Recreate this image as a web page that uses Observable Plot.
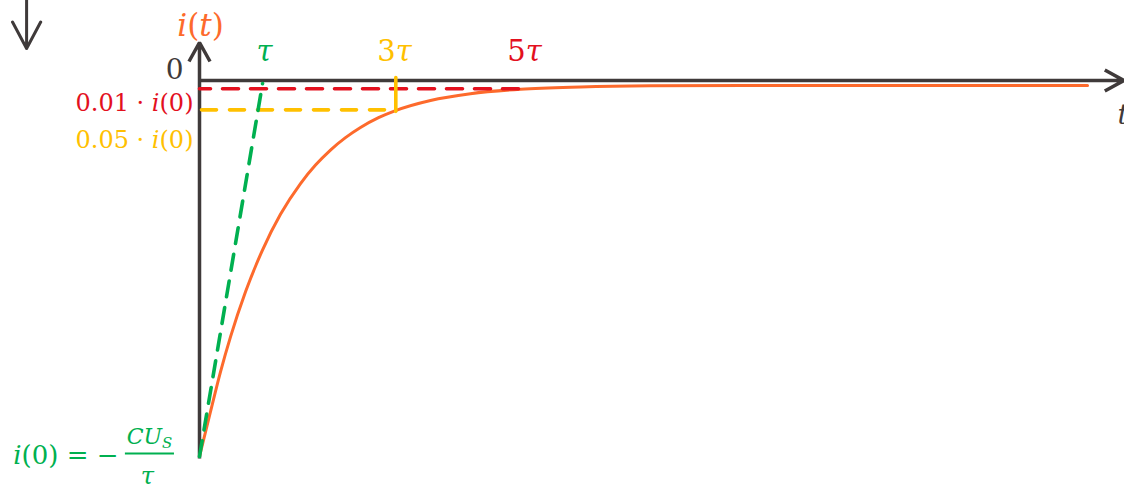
<!DOCTYPE html>
<html>
<head>
<meta charset="utf-8">
<script src="https://cdn.jsdelivr.net/npm/d3@7"></script>
<script src="https://cdn.jsdelivr.net/npm/@observablehq/plot@0.6"></script>
<style>
  body { margin: 0; background: #fff; }
  #chart svg { display: block; }
</style>
</head>
<body>
<div id="chart"></div>
<script>
// Discharge current of a capacitor: time in units of τ, current relative to |i(0)|.
const curveT = [0, 0.169, 0.323, 0.477, 0.708, 0.969, 1.246, 1.554, 1.785, 2.015, 2.246, 2.477, 2.754, 3.015, 3.554, 4.169, 4.938, 5.862, 6.938, 8.477, 10.785, 13.662];
const curveI = [-1, -0.881, -0.775, -0.682, -0.562, -0.451, -0.356, -0.274, -0.225, -0.185, -0.152, -0.125, -0.099, -0.080, -0.053, -0.035, -0.023, -0.017, -0.014, -0.013, -0.013, -0.013];

// Initial tangent: reaches zero after one time constant.
const tangentT = [0, 0.97];
const tangentI = [-1, -0.008];

// 1 % and 5 % levels of i(0), drawn out to 5τ and 3τ.
const level1T = [0, 4.91];
const level1I = [-0.022, -0.022];
const level5T = [0, 3.02];
const level5I = [-0.078, -0.078];
const mark3T = [3.02, 3.02];
const mark3I = [0.008, -0.082];

// Tick labels along the time axis.
const tickT = [1, 3, 5];
const tickText = ["*τ*", "3*τ*", "5*τ*"];

// Axis arrows and the small arrow at the top left.
const axesArrows = [
  {x1: 0, y1: 0, x2: 14.22, y2: 0},
  {x1: 0, y1: -1.005, x2: 0, y2: 0.101}
];
const cornerArrow = [{x1: -2.66, y1: 0.45, x2: -2.66, y2: 0.085}];

// Fraction bar in the i(0) formula.
const fractionBar = [{y: -0.992, x1: -1.14, x2: -0.385}];

const C = {
  axis: "#3f3a3a",
  curve: "#fd6a2c",
  green: "#00b050",
  yellow: "#ffc000",
  red: "#e3101e"
};

const curve = curveT.map((t, k) => ({t, i: curveI[k]}));
const tangent = tangentT.map((t, k) => ({t, i: tangentI[k]}));
const lvl1 = level1T.map((t, k) => ({t, i: level1I[k]}));
const lvl5 = level5T.map((t, k) => ({t, i: level5I[k]}));
const mark3 = mark3T.map((t, k) => ({t, i: mark3I[k]}));
const ticks = tickT.map((t, k) => ({t, label: tickText[k]}));
const tickColors = [C.green, C.yellow, C.red];

const one = [0];

const chart = Plot.plot({
  width: 1124,
  height: 484,
  marginLeft: 199,
  marginRight: 15,
  marginTop: 80,
  marginBottom: 28,
  x: {domain: [0, 14], axis: null},
  y: {domain: [-1, 0], axis: null},
  style: {fontFamily: "'DejaVu Serif', serif", background: "#fff"},
  marks: [
    Plot.arrow(axesArrows, {x1: "x1", y1: "y1", x2: "x2", y2: "y2", stroke: C.axis, strokeWidth: 3.5, headLength: 9.3, headAngle: 58, strokeLinecap: "butt"}),
    Plot.arrow(cornerArrow, {x1: "x1", y1: "y1", x2: "x2", y2: "y2", stroke: C.axis, strokeWidth: 3, headLength: 15, headAngle: 56}),
    Plot.line(curve, {x: "t", y: "i", stroke: C.curve, strokeWidth: 3, curve: "monotone-x"}),
    Plot.line(lvl1, {x: "t", y: "i", stroke: C.red, strokeWidth: 3.6, strokeDasharray: "16,12", strokeDashoffset: 5}),
    Plot.line(lvl5, {x: "t", y: "i", stroke: C.yellow, strokeWidth: 3.6, strokeDasharray: "15,13", strokeDashoffset: 26}),
    Plot.line(mark3, {x: "t", y: "i", stroke: C.yellow, strokeWidth: 3.6}),
    Plot.line(tangent, {x: "t", y: "i", stroke: C.green, strokeWidth: 3.6, strokeDasharray: "16,11"}),
    Plot.ruleY(fractionBar, {y: "y", x1: "x1", x2: "x2", stroke: C.green, strokeWidth: 1.8}),

    // tick labels τ, 3τ, 5τ
    Plot.text(ticks, {x: "t", y: () => 0, text: "label", fill: (d, k) => tickColors[k], fontSize: 29, dy: -20, lineAnchor: "bottom"}),
    // origin label and axis titles
    Plot.text(one, {x: () => 0, y: () => 0, text: () => "0", fill: C.axis, fontSize: 28, textAnchor: "end", dx: -16, dy: -2, lineAnchor: "bottom"}),
    Plot.text(one, {x: () => 0, y: () => 0, text: () => "*i*(*t*)", fill: C.curve, fontSize: 31, dx: 1, dy: -45, lineAnchor: "bottom", ariaLabel: "current title"}),
    Plot.text(one, {x: () => 14, y: () => 0, text: () => "*t*", fill: C.axis, fontSize: 28, textAnchor: "start", dx: 8, dy: 43, lineAnchor: "bottom"}),
    // level labels
    Plot.text(one, {x: () => 0, y: () => level1I[0], text: () => "0.01 · *i*(0)", fill: C.red, fontSize: 24, textAnchor: "end", dx: -6, dy: 22, lineAnchor: "bottom"}),
    Plot.text(one, {x: () => 0, y: () => level5I[0], text: () => "0.05 · *i*(0)", fill: C.yellow, fontSize: 24, textAnchor: "end", dx: -6, dy: 38, lineAnchor: "bottom"}),
    // initial value formula
    Plot.text(one, {x: () => 0, y: () => -1, text: () => "*i*(0) = −", fill: C.green, fontSize: 26, textAnchor: "end", dx: -81, dy: 7, lineAnchor: "bottom"}),
    Plot.text(one, {x: () => 0, y: () => -1, text: () => "*CU*_S_", fill: C.green, fontSize: 22, textAnchor: "middle", dx: -50, dy: -13, lineAnchor: "bottom"}),
    Plot.text(one, {x: () => 0, y: () => -1, text: () => "*τ*", fill: C.green, fontSize: 24, textAnchor: "middle", dx: -52, dy: 27, lineAnchor: "bottom"})
  ]
});

// Turn *x* into italic spans and _x_ into italic subscripts.
d3.select(chart).selectAll("text").each(function () {
  const s = this.textContent;
  if (!/[*_]/.test(s)) return;
  const el = d3.select(this);
  el.text(null);
  for (const p of s.split(/(\*[^*]+\*|_[^_]+_)/).filter(Boolean)) {
    if (p[0] === "*") {
      el.append("tspan").attr("font-style", "italic").text(p.slice(1, -1));
    } else if (p[0] === "_") {
      el.append("tspan").attr("font-style", "italic").attr("font-size", "0.68em").attr("dy", "0.3em").text(p.slice(1, -1));
    } else {
      el.append("tspan").text(p);
    }
  }
});
d3.select(chart).select('g[aria-label="current title"] text').attr("letter-spacing", "2px");

document.getElementById("chart").append(chart);
</script>
</body>
</html>
